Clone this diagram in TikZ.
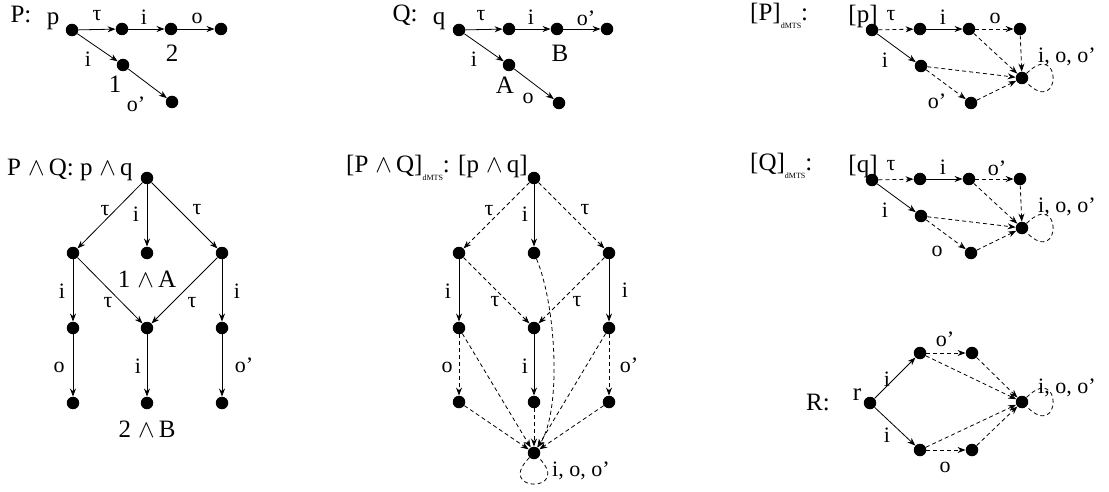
\documentclass[tikz,border=0pt]{standalone}
\usepackage{fontspec}
\setmainfont{Liberation Serif}
\usetikzlibrary{arrows.meta}
\newcommand\dmts{\raisebox{-0.7ex}{\fontsize{8}{8}\selectfont dMTS}}
\newcommand\wdg{\;$\wedge$\,}
\begin{document}
\begin{tikzpicture}[x=1pt,y=-1pt,
  st/.style={circle,fill=black,inner sep=0pt,minimum size=12.5pt},
  tr/.style={-{Stealth[length=8pt,width=6pt]},line width=0.8pt},
  may/.style={tr,dash pattern=on 4pt off 3pt},
  lp/.style={line width=0.8pt,dash pattern=on 4pt off 3pt},
  nm/.style={inner sep=0pt,font=\fontsize{25}{29}\selectfont},
  el/.style={inner sep=0pt,font=\fontsize{22}{25}\selectfont}]
\useasboundingbox (0,0) rectangle (1109,492);

% ---------------- P ----------------
\node[nm] (tP) at (21,14) {P:};
\node[nm] (tp) at (53,21) {p};
\node[st] (p0) at (72,30) {};
\node[st] (p1) at (122,29) {};
\node[st] (p2) at (171,29) {};
\node[st] (p3) at (221,29) {};
\node[st] (p4) at (123,65) {};
\node[st] (p5) at (172,102) {};
\draw[tr] (p0) -- (p1);
\draw[tr] (p1) -- (p2);
\draw[tr] (p2) -- (p3);
\draw[tr] (p0) -- (p4);
\draw[tr] (p4) -- (p5);
\node[el] (lp1) at (97,16) {τ};
\node[el] (lp2) at (144,17) {i};
\node[el] (lp3) at (197,18) {o};
\node[nm] (lp4) at (172,53) {2};
\node[el] (lp5) at (88,59) {i};
\node[nm] (lp6) at (115,84) {1};
\node[el] (lp7) at (136,104) {o’};

% ---------------- Q ----------------
\node[nm] (tQ) at (405,15) {Q:};
\node[nm] (tq) at (439,21) {q};
\node[st] (q0) at (459,30) {};
\node[st] (q1) at (509,29) {};
\node[st] (q2) at (557,29) {};
\node[st] (q3) at (607,29) {};
\node[st] (q4) at (509,65) {};
\node[st] (q5) at (559,103) {};
\draw[tr] (q0) -- (q1);
\draw[tr] (q1) -- (q2);
\draw[tr] (q2) -- (q3);
\draw[tr] (q0) -- (q4);
\draw[tr] (q4) -- (q5);
\node[el] (lq1) at (481,16) {τ};
\node[el] (lq2) at (531,17) {i};
\node[el] (lq3) at (586,18) {o’};
\node[nm] (lq4) at (560,53) {B};
\node[el] (lq5) at (474,59) {i};
\node[nm] (lq6) at (505,85) {A};
\node[el] (lq7) at (528,98) {o};

% ---------------- [P]dMTS ----------------
\node[nm,anchor=west] (tPd) at (750,16) {[P]\dmts:};
\node[nm] (tpd) at (863,16) {[p]};
\node[st] (a0) at (872,30) {};
\node[st] (a1) at (920,29) {};
\node[st] (a2) at (969,29) {};
\node[st] (a3) at (1020,29) {};
\node[st] (a4) at (921,66) {};
\node[st] (a5) at (971,103) {};
\node[st] (as) at (1022,78) {};
\draw[may] (a0) -- (a1);
\draw[tr] (a1) -- (a2);
\draw[may] (a2) -- (a3);
\draw[tr] (a0) -- (a4);
\draw[may] (a4) -- (a5);
\draw[may] (a4) -- (as);
\draw[may] (a5) -- (as);
\draw[may] (a2) -- (as);
\draw[may] (a3) -- (as);
\draw[lp] (as) .. controls +(40,-40) and +(40,40) .. (as);
\node[el] (la1) at (891,16) {τ};
\node[el] (la2) at (943,17) {i};
\node[el] (la3) at (995,18) {o};
\node[el] (la4) at (885,60) {i};
\node[el] (la5) at (937,101) {o’};
\node[el,anchor=west] (la6) at (1038,57) {i, o, o’};

% ---------------- [Q]dMTS ----------------
\node[nm,anchor=west] (tQd) at (750,166) {[Q]\dmts:};
\node[nm] (tqd) at (863,166) {[q]};
\node[st] (b0) at (872,180) {};
\node[st] (b1) at (920,179) {};
\node[st] (b2) at (969,179) {};
\node[st] (b3) at (1020,179) {};
\node[st] (b4) at (921,216) {};
\node[st] (b5) at (971,253) {};
\node[st] (bs) at (1022,228) {};
\draw[may] (b0) -- (b1);
\draw[tr] (b1) -- (b2);
\draw[may] (b2) -- (b3);
\draw[tr] (b0) -- (b4);
\draw[may] (b4) -- (b5);
\draw[may] (b4) -- (bs);
\draw[may] (b5) -- (bs);
\draw[may] (b2) -- (bs);
\draw[may] (b3) -- (bs);
\draw[lp] (bs) .. controls +(40,-40) and +(40,40) .. (bs);
\node[el] (lb1) at (891,166) {τ};
\node[el] (lb2) at (943,167) {i};
\node[el] (lb3) at (997,168) {o’};
\node[el] (lb4) at (885,210) {i};
\node[el] (lb5) at (937,251) {o};
\node[el,anchor=west] (lb6) at (1038,207) {i, o, o’};

% ---------------- P and Q ----------------
\node[nm,anchor=west] (tPQ) at (7,170) {P\wdg Q: p\wdg q};
\node[st] (c0) at (147,178) {};
\node[st] (c1) at (73,253) {};
\node[st] (c2) at (147,253) {};
\node[st] (c3) at (222,253) {};
\node[st] (c4) at (73,328) {};
\node[st] (c5) at (147,328) {};
\node[st] (c6) at (222,328) {};
\node[st] (c7) at (73,403) {};
\node[st] (c8) at (147,403) {};
\node[st] (c9) at (222,403) {};
\draw[tr] (c0) -- (c1);
\draw[tr] (c0) -- (c2);
\draw[tr] (c0) -- (c3);
\draw[tr] (c1) -- (c4);
\draw[tr] (c1) -- (c5);
\draw[tr] (c3) -- (c5);
\draw[tr] (c3) -- (c6);
\draw[tr] (c4) -- (c7);
\draw[tr] (c5) -- (c8);
\draw[tr] (c6) -- (c9);
\node[el] (lc1) at (105,211) {τ};
\node[el] (lc2) at (136,214) {i};
\node[el] (lc3) at (197,210) {τ};
\node[nm] (lc4) at (147,279) {1\wdg A};
\node[el] (lc5) at (62,291) {i};
\node[el] (lc6) at (108,303) {τ};
\node[el] (lc7) at (192,303) {τ};
\node[el] (lc8) at (237,291) {i};
\node[el] (lc9) at (59,367) {o};
\node[el] (lc10) at (138,366) {i};
\node[el] (lc11) at (244,365) {o’};
\node[nm] (lc12) at (147,429) {2\wdg B};

% ---------------- [P and Q]dMTS ----------------
\node[nm,anchor=west] (tPQd) at (346,168) {[P\wdg Q]\dmts: [p\wdg q]};
\node[st] (d0) at (534,178) {};
\node[st] (d1) at (459,253) {};
\node[st] (d2) at (534,253) {};
\node[st] (d3) at (609,253) {};
\node[st] (d4) at (459,328) {};
\node[st] (d5) at (534,328) {};
\node[st] (d6) at (609,328) {};
\node[st] (d7) at (459,402) {};
\node[st] (d8) at (534,402) {};
\node[st] (d9) at (609,402) {};
\node[st] (ds) at (534,453) {};
\draw[may] (d0) -- (d1);
\draw[tr] (d0) -- (d2);
\draw[may] (d0) -- (d3);
\draw[tr] (d1) -- (d4);
\draw[may] (d1) -- (d5);
\draw[may] (d3) -- (d5);
\draw[tr] (d3) -- (d6);
\draw[may] (d4) -- (d7);
\draw[tr] (d5) -- (d8);
\draw[may] (d6) -- (d9);
\draw[may] (d4) -- (ds);
\draw[may] (d7) -- (ds);
\draw[may] (d8) -- (ds);
\draw[may] (d6) -- (ds);
\draw[may] (d9) -- (ds);
\draw[may] (d2) .. controls (556,305) and (562,410) .. (ds);
\draw[lp] (ds) .. controls +(-40,40) and +(40,40) .. (ds);
\node[el] (ld1) at (489,211) {τ};
\node[el] (ld2) at (525,214) {i};
\node[el] (ld3) at (585,210) {τ};
\node[el] (ld4) at (448,291) {i};
\node[el] (ld5) at (495,302) {τ};
\node[el] (ld6) at (577,302) {τ};
\node[el] (ld7) at (625,290) {i};
\node[el] (ld8) at (447,367) {o};
\node[el] (ld9) at (525,366) {i};
\node[el] (ld10) at (629,365) {o’};
\node[el,anchor=west] (ld11) at (552,471) {i, o, o’};

% ---------------- R ----------------
\node[nm] (tR) at (818,402) {R:};
\node[nm] (tr) at (857,395) {r};
\node[st] (r0) at (870,403) {};
\node[st] (r1) at (920,353) {};
\node[st] (r2) at (972,353) {};
\node[st] (r3) at (920,450) {};
\node[st] (r4) at (972,450) {};
\node[st] (rs) at (1022,402) {};
\draw[tr] (r0) -- (r1);
\draw[tr] (r0) -- (r3);
\draw[may] (r1) -- (r2);
\draw[may] (r3) -- (r4);
\draw[may] (r1) -- (rs);
\draw[may] (r2) -- (rs);
\draw[may] (r3) -- (rs);
\draw[may] (r4) -- (rs);
\draw[lp] (rs) .. controls +(40,-40) and +(40,40) .. (rs);
\node[el] (lr1) at (887,379) {i};
\node[el] (lr2) at (887,435) {i};
\node[el] (lr3) at (945,339) {o’};
\node[el] (lr4) at (945,467) {o};
\node[el,anchor=west] (lr5) at (1038,388) {i, o, o’};
\end{tikzpicture}
\end{document}
